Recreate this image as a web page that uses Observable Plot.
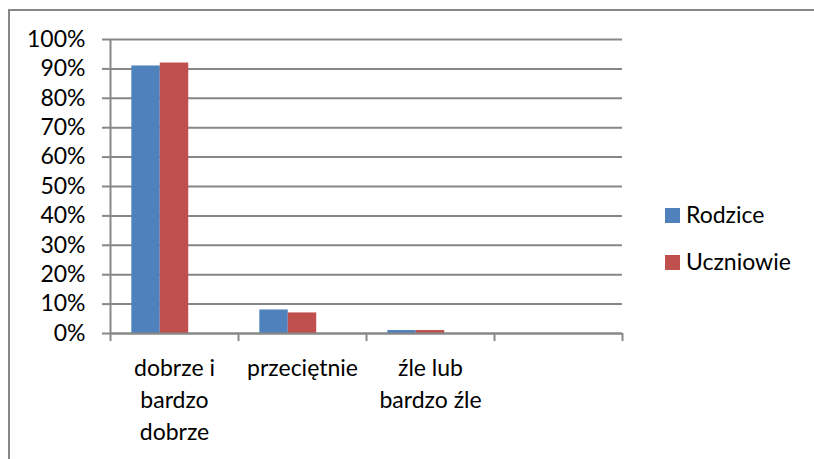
<!DOCTYPE html>
<html>
<head>
<meta charset="utf-8">
<script src="https://cdn.jsdelivr.net/npm/d3@7"></script>
<script src="https://cdn.jsdelivr.net/npm/@observablehq/plot@0.6"></script>
<style>
  body { margin: 0; background: #fff; }
  #wrap { position: relative; width: 814px; height: 459px; overflow: hidden; background: #fff; }
  #border { position: absolute; left: 8px; top: 9px; width: 820px; height: 470px;
            border-top: 2px solid #878787; border-left: 2px solid #878787; pointer-events: none; }
  #legend { position: absolute; left: 0; top: 0; }
</style>
</head>
<body>
<div id="wrap"><div id="border"></div></div>
<script>
// ---- data ----
const categories = ["dobrze i bardzo dobrze", "przeciętnie", "źle lub bardzo źle", ""];
const tickLabels = ["dobrze i\nbardzo\ndobrze", "przeciętnie", "źle lub\nbardzo źle", ""];
const series = ["Rodzice", "Uczniowie"];
const rodzice = [0.91, 0.08, 0.01, null];
const uczniowie = [0.92, 0.07, 0.01, null];
const colors = ["#4F81BD", "#C0504D"];
const yTicks = [0, 0.1, 0.2, 0.3, 0.4, 0.5, 0.6, 0.7, 0.8, 0.9, 1.0];

// ---- layout ----
const W = 814, H = 459;
const mL = 110, mR = 192, mT = 39, mB = 126;
const band = (W - mL - mR) / categories.length;
const slots = 3;                 // Excel reserves a third (empty) slot
const slot = band / (slots + 1.5);
const grey = "#878787";
const font = "Lato, 'Open Sans', sans-serif";

const valuesBySeries = [rodzice, uczniowie];
const rows = [];
series.forEach((s, si) => categories.forEach((c, ci) => {
  const v = valuesBySeries[si][ci];
  if (v != null) rows.push({category: c, series: s, value: v});
}));

const barMarks = series.map((s, si) => {
  const left = slot * 0.75 + si * slot;
  return Plot.barY(rows.filter(r => r.series === s), {
    x: "category", y: "value", fill: "series",
    insetLeft: left, insetRight: band - left - slot
  });
});

const chart = Plot.plot({
  width: W, height: H,
  marginLeft: mL, marginRight: mR, marginTop: mT, marginBottom: mB,
  style: {fontFamily: font, fontSize: "23px", color: "#000", background: "transparent"},
  x: {domain: categories, padding: 0, axis: null, label: null},
  y: {domain: [0, 1], axis: null, label: null},
  color: {domain: series, range: colors},
  marks: [
    Plot.gridY(yTicks, {stroke: grey, strokeOpacity: 1, strokeWidth: 2}),
    ...barMarks,
    Plot.ruleY([0], {stroke: grey, strokeWidth: 2}),
    // y axis line (extends below baseline as the first category tick)
    Plot.ruleX([categories[0]], {x: d => d, dx: -band / 2, y1: 1, y2: 0, insetBottom: -8, stroke: grey, strokeWidth: 2}),
    // category boundary ticks
    Plot.ruleX(categories.slice(1), {x: d => d, dx: -band / 2, y1: 0, y2: 0, insetBottom: -8, stroke: grey, strokeWidth: 2}),
    Plot.ruleX([categories[categories.length - 1]], {x: d => d, dx: band / 2, y1: 0, y2: 0, insetBottom: -8, stroke: grey, strokeWidth: 2}),
    Plot.axisY({
      ticks: yTicks, tickFormat: d3.format(".0%"), label: null,
      tickSize: 8, tickPadding: 17, stroke: grey, strokeWidth: 2, strokeOpacity: 1,
      fill: "#000", fontSize: 23
    }),
    Plot.axisX({
      tickSize: 0, tickPadding: 20, fill: "#000", fontSize: 23, lineHeight: 1.38, label: null,
      tickFormat: d => tickLabels[categories.indexOf(d)]
    })
  ]
});

const wrap = document.getElementById("wrap");
wrap.insertBefore(chart, wrap.firstChild);

// ---- legend (right side) ----
const leg = d3.select(wrap).append("svg").attr("id", "legend")
  .attr("width", W).attr("height", H);
const legX = 665, legY0 = 208, legStep = 47;
series.forEach((s, i) => {
  const g = leg.append("g").attr("transform", `translate(${legX},${legY0 + i * legStep})`);
  g.append("rect").attr("width", 15).attr("height", 15).attr("fill", colors[i]);
  g.append("text").attr("x", 21).attr("y", 15)
    .attr("font-family", font).attr("font-size", 23).attr("fill", "#000").text(s);
});
</script>
</body>
</html>
